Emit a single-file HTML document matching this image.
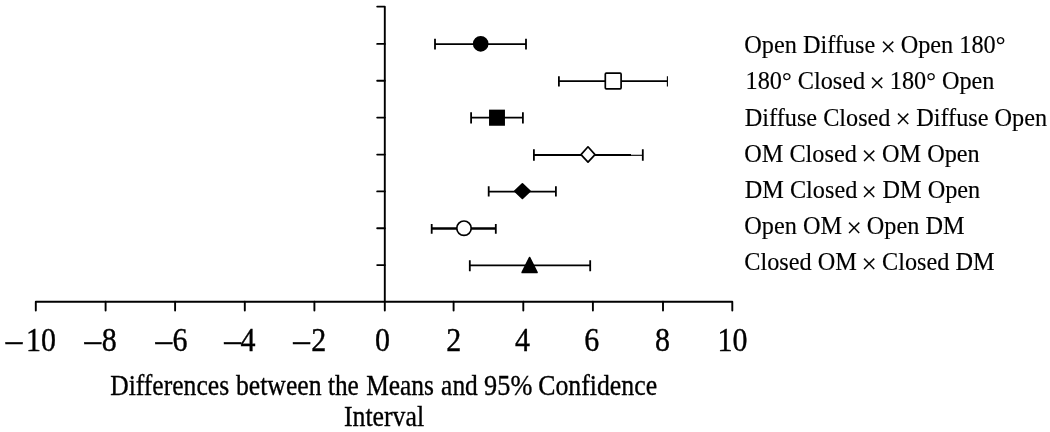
<!DOCTYPE html>
<html><head><meta charset="utf-8">
<style>
html,body{margin:0;padding:0;background:#fff;}
svg{display:block;}
text{font-family:"Liberation Serif",serif;fill:#000;}
</style></head><body>
<svg width="1050" height="432" viewBox="0 0 1050 432">
<rect width="1050" height="432" fill="#fff"/>
<g stroke="#000" stroke-width="1.9" fill="none" stroke-linejoin="round" stroke-linecap="round">
<path d="M35.8 310.6V301.7H732.3V310.6"/>
<path d="M105.6 301.7V310.6M175.1 301.7V310.6M244.8 301.7V310.6M314.4 301.7V310.6M453.6 301.7V310.6M523.3 301.7V310.6M592.9 301.7V310.6M663.0 301.7V310.6"/>
<path d="M377.2 6.6H384.8V310.6"/>
<path d="M377.2 43.9H384.8M377.2 80.8H384.8M377.2 117.6H384.8M377.2 154.6H384.8M377.2 191.4H384.8M377.2 228.2H384.8M377.2 265.1H384.8"/>
</g>
<g stroke="#000" stroke-width="1.8" fill="none">
<path d="M435.0 44.1H526.0M435.0 38.8V49.6M526.0 38.8V49.6"/>
<path d="M558.9 81.2H667.4M558.9 76.2V86.5"/><path d="M667.4 76.2V86.5" stroke-width="1.1"/>
<path d="M471.1 117.7H522.9M471.1 112.3V123.5M522.9 112.3V123.5"/>
<path d="M533.9 155.0H631M533.9 149.2V160.8M642.8 149.2V160.8"/><path d="M630 155.3H642.8" stroke-width="1.1"/>
<path d="M488.7 191.6H555.9M488.7 186.2V196.5M555.9 186.2V196.5"/>
<path d="M431.7 228.4H495.8" stroke-width="2.5"/><path d="M431.7 223.9V233.8M495.8 223.9V233.8"/>
<path d="M469.8 265.3H590.2M469.8 260.2V271.2M590.2 260.2V271.2"/>
</g>
<g stroke="#000" stroke-width="1.7" stroke-linejoin="round">
<circle cx="480.7" cy="43.8" r="7" fill="#000"/>
<rect x="605.3" y="73.2" width="15.8" height="15.6" rx="1" fill="#fff"/>
<rect x="489.9" y="110.5" width="14.2" height="14.4" fill="#000" stroke-linejoin="miter"/>
<path d="M588 146.8L595 154.6L588 162.2L581 154.6Z" fill="#fff"/>
<path d="M522.4 183.8L530 191.2L522.4 198.4L514.8 191.2Z" fill="#000"/>
<circle cx="464" cy="228.2" r="7.2" fill="#fff"/>
<path d="M529.6 257.6L537 272.5H522.2Z" fill="#000"/>
</g>
<g font-size="33.5px" stroke="#000" stroke-width="0.4">
<text><tspan x="5.8" y="350.6" textLength="16.6" lengthAdjust="spacingAndGlyphs">–</tspan><tspan x="25.9" y="350.8" textLength="29.98" lengthAdjust="spacingAndGlyphs">10</tspan></text>
<text><tspan x="84.5" y="350.6" textLength="16.6" lengthAdjust="spacingAndGlyphs">–</tspan><tspan x="101.7" y="350.8" textLength="14.99" lengthAdjust="spacingAndGlyphs">8</tspan></text>
<text><tspan x="155.4" y="350.6" textLength="16.6" lengthAdjust="spacingAndGlyphs">–</tspan><tspan x="172.6" y="350.8" textLength="14.99" lengthAdjust="spacingAndGlyphs">6</tspan></text>
<text><tspan x="224.2" y="350.6" textLength="16.6" lengthAdjust="spacingAndGlyphs">–</tspan><tspan x="240.6" y="350.8" textLength="14.99" lengthAdjust="spacingAndGlyphs">4</tspan></text>
<text><tspan x="293.3" y="350.6" textLength="16.6" lengthAdjust="spacingAndGlyphs">–</tspan><tspan x="311.2" y="350.8" textLength="14.99" lengthAdjust="spacingAndGlyphs">2</tspan></text>
<text x="375.0" y="350.8" textLength="14.99" lengthAdjust="spacingAndGlyphs">0</text>
<text x="446.3" y="350.8" textLength="14.99" lengthAdjust="spacingAndGlyphs">2</text>
<text x="515.0" y="350.8" textLength="14.99" lengthAdjust="spacingAndGlyphs">4</text>
<text x="584.2" y="350.8" textLength="14.99" lengthAdjust="spacingAndGlyphs">6</text>
<text x="655.0" y="350.8" textLength="14.99" lengthAdjust="spacingAndGlyphs">8</text>
<text x="717.4" y="350.8" textLength="29.98" lengthAdjust="spacingAndGlyphs">10</text>
</g>
<g font-size="29.5px" stroke="#000" stroke-width="0.35">
<text y="395.0"><tspan x="110.2" textLength="118.9" lengthAdjust="spacingAndGlyphs">Differences</tspan> <tspan x="236.0" textLength="85.5" lengthAdjust="spacingAndGlyphs">between</tspan> <tspan x="327.9" textLength="30.9" lengthAdjust="spacingAndGlyphs">the</tspan> <tspan x="366.2" textLength="67.8" lengthAdjust="spacingAndGlyphs">Means</tspan> <tspan x="441.1" textLength="36.7" lengthAdjust="spacingAndGlyphs">and</tspan> <tspan x="484.1" textLength="48.2" lengthAdjust="spacingAndGlyphs">95%</tspan> <tspan x="538.2" textLength="118.9" lengthAdjust="spacingAndGlyphs">Confidence</tspan></text>
<text x="343.9" y="426.0" textLength="80.2" lengthAdjust="spacingAndGlyphs">Interval</text>
</g>
<g font-size="25.2px" stroke="#000" stroke-width="0.15">
<text><tspan x="744.3" y="52.8" textLength="130.9" lengthAdjust="spacingAndGlyphs">Open Diffuse</tspan> <tspan x="880.6" y="55.6" font-size="27px">×</tspan> <tspan x="900.7" y="52.8" textLength="104.7" lengthAdjust="spacingAndGlyphs">Open 180°</tspan></text>
<text><tspan x="745.6" y="89.3" textLength="119.5" lengthAdjust="spacingAndGlyphs">180° Closed</tspan> <tspan x="869.4" y="92.1" font-size="27px">×</tspan> <tspan x="889.8" y="89.3" textLength="104.7" lengthAdjust="spacingAndGlyphs">180° Open</tspan></text>
<text><tspan x="744.8" y="125.6" textLength="145.7" lengthAdjust="spacingAndGlyphs">Diffuse Closed</tspan> <tspan x="895.6" y="128.4" font-size="27px">×</tspan> <tspan x="916.2" y="125.6" textLength="130.9" lengthAdjust="spacingAndGlyphs">Diffuse Open</tspan></text>
<text><tspan x="744.3" y="161.9" textLength="112.5" lengthAdjust="spacingAndGlyphs">OM Closed</tspan> <tspan x="861.6" y="164.7" font-size="27px">×</tspan> <tspan x="882.0" y="161.9" textLength="97.7" lengthAdjust="spacingAndGlyphs">OM Open</tspan></text>
<text><tspan x="744.8" y="198.0" textLength="112.5" lengthAdjust="spacingAndGlyphs">DM Closed</tspan> <tspan x="861.6" y="200.8" font-size="27px">×</tspan> <tspan x="882.5" y="198.0" textLength="97.7" lengthAdjust="spacingAndGlyphs">DM Open</tspan></text>
<text><tspan x="744.3" y="234.3" textLength="97.7" lengthAdjust="spacingAndGlyphs">Open OM</tspan> <tspan x="846.5" y="237.1" font-size="27px">×</tspan> <tspan x="866.8" y="234.3" textLength="97.7" lengthAdjust="spacingAndGlyphs">Open DM</tspan></text>
<text><tspan x="744.3" y="269.9" textLength="112.5" lengthAdjust="spacingAndGlyphs">Closed OM</tspan> <tspan x="861.6" y="272.7" font-size="27px">×</tspan> <tspan x="882.0" y="269.9" textLength="112.5" lengthAdjust="spacingAndGlyphs">Closed DM</tspan></text>
</g>
</svg>
</body></html>
